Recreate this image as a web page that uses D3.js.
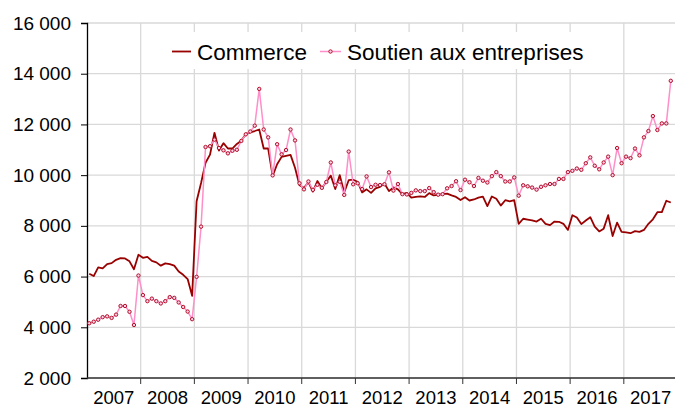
<!DOCTYPE html>
<html>
<head>
<meta charset="utf-8">
<script src="https://cdn.jsdelivr.net/npm/d3@7"></script>
<style>
  body { margin: 0; background: #fff; }
  svg { font-family: "Liberation Sans", Arial, sans-serif; }
</style>
</head>
<body>
<div id="chart"></div>
<script>
// monthly series, Jan 2007 .. Nov 2017
var commerce = [
  6110, 6020, 6360, 6320, 6490, 6530, 6660, 6730, 6715, 6600, 6290, 6860,
  6740, 6780, 6620, 6560, 6430, 6520, 6490, 6430, 6200, 6070, 5900, 5240,
  8970, 9690, 10490, 10810, 11670, 10970, 11260, 11050, 11050, 11230, 11360, 11620,
  11690, 11740, 11800, 11050, 11050, 9970, 10430, 10720, 10760, 10800, 10290, 9600,
  9500, 9720, 9350, 9770, 9480, 9740, 9980, 9450, 10000, 9320, 9800, 9820,
  9740, 9320, 9440, 9300, 9480, 9540, 9670, 9370, 9520, 9440, 9250, 9300,
  9110, 9140, 9160, 9140, 9290, 9200, 9220, 9250, 9270, 9200, 9140, 9020,
  9130, 9000, 9040, 9110, 9150, 8780, 9160, 9070, 8800, 9010, 8970, 9010,
  8080, 8280, 8250, 8220, 8170, 8280, 8080, 8030, 8170, 8160, 8080, 7840,
  8420, 8330, 8070, 8210, 8340, 7970, 7780, 7890, 8420, 7600, 8130, 7760,
  7740, 7710, 7790, 7760, 7840, 8080, 8260, 8540, 8540, 8990, 8920
];

var soutien = [
  4160, 4220, 4300, 4400, 4430, 4370, 4500, 4840, 4840, 4610, 4090, 6040,
  5270, 5030, 5130, 5030, 4940, 5030, 5190, 5160, 4980, 4800, 4620, 4320,
  5990, 7970, 11110, 11140, 11400, 11070, 10980, 10860, 10960, 11000, 11350, 11610,
  11720, 11950, 13400, 11800, 11490, 9990, 11220, 10820, 10990, 11800, 11370, 9680,
  9440, 9750, 9420, 9620, 9500, 9730, 10500, 9600, 9740, 9220, 10930, 9640,
  9680, 9450, 9950, 9530, 9620, 9610, 9640, 10110, 9390, 9650, 9250, 9240,
  9300, 9400, 9370, 9370, 9490, 9330, 9230, 9250, 9480, 9570, 9760, 9410,
  9820, 9720, 9570, 9890, 9780, 9710, 9960, 10120, 9960, 9750, 9750, 9910,
  9190, 9600, 9560, 9510, 9430, 9540, 9600, 9650, 9650, 9850, 9850, 10120,
  10170, 10260, 10210, 10470, 10700, 10370, 10230, 10500, 10730, 10000, 11070, 10470,
  10730, 10670, 11050, 10780, 11490, 11740, 12330, 11780, 12040, 12040, 13720
];

var years = ['2007', '2008', '2009', '2010', '2011', '2012', '2013', '2014', '2015', '2016', '2017'];
var yTicks = [2000, 4000, 6000, 8000, 10000, 12000, 14000, 16000];

var width = 675;
var height = 408;
var margin = { left: 87, right: -2.5, top: 23, bottom: 30 };

var svg = d3.select('#chart')
    .append('svg')
        .attr('width', width)
        .attr('height', height);

var x = d3.scaleLinear()
    .domain([0, years.length * 12])
    .range([margin.left, width - margin.right]);

var y = d3.scaleLinear()
    .domain([2000, 16000])
    .range([height - margin.bottom, margin.top]);

var fmt = function(d) { return d3.format(',')(d).replace(/,/g, ' '); };

// horizontal grid
svg.append('g')
    .selectAll('line')
    .data(yTicks)
    .enter()
    .append('line')
        .attr('x1', margin.left)
        .attr('x2', width)
        .attr('y1', d => y(d))
        .attr('y2', d => y(d))
        .attr('stroke', '#d9d9d9')
        .attr('stroke-width', 1.3);

// vertical grid at year boundaries
svg.append('g')
    .selectAll('line')
    .data(d3.range(1, years.length))
    .enter()
    .append('line')
        .attr('x1', d => x(d * 12))
        .attr('x2', d => x(d * 12))
        .attr('y1', y(16000))
        .attr('y2', y(2000))
        .attr('stroke', '#d9d9d9')
        .attr('stroke-width', 1.3);

// y axis
var yAxis = svg.append('g')
    .attr('transform', 'translate(' + margin.left + ',0)')
    .call(d3.axisLeft(y).tickValues(yTicks).tickSize(6).tickPadding(10).tickFormat(fmt));
yAxis.select('.domain').attr('stroke', '#000').attr('stroke-width', 1.3);
yAxis.selectAll('.tick line').attr('stroke', '#000');
yAxis.selectAll('text')
    .attr('font-size', 19)
    .attr('fill', '#000')
    .attr('font-family', '"Liberation Sans", Arial, sans-serif');

// x axis
var xAxis = svg.append('g')
    .attr('transform', 'translate(0,' + y(2000) + ')');
xAxis.append('line')
    .attr('x1', margin.left)
    .attr('x2', width)
    .attr('stroke', '#333')
    .attr('stroke-width', 1.3);
xAxis.selectAll('.xtick')
    .data(d3.range(1, years.length))
    .enter()
    .append('line')
        .attr('x1', d => x(d * 12))
        .attr('x2', d => x(d * 12))
        .attr('y1', 0)
        .attr('y2', 6)
        .attr('stroke', '#333');
xAxis.selectAll('.xlabel')
    .data(years)
    .enter()
    .append('text')
        .attr('x', (d, i) => x(i * 12 + 6))
        .attr('y', 26)
        .attr('text-anchor', 'middle')
        .attr('font-size', 18.5)
        .attr('fill', '#000')
        .text(d => d);

// series
var line = d3.line()
    .x((d, i) => x(i + 0.5))
    .y(d => y(d));

svg.append('path')
    .datum(commerce)
    .attr('fill', 'none')
    .attr('stroke', '#990000')
    .attr('stroke-width', 1.8)
    .attr('stroke-linejoin', 'round')
    .attr('d', line);

svg.append('path')
    .datum(soutien)
    .attr('fill', 'none')
    .attr('stroke', '#ff8fc8')
    .attr('stroke-width', 1.5)
    .attr('stroke-linejoin', 'round')
    .attr('d', line);

svg.append('g')
    .selectAll('circle')
    .data(soutien)
    .enter()
    .append('circle')
        .attr('cx', (d, i) => x(i + 0.5))
        .attr('cy', d => y(d))
        .attr('r', 1.7)
        .attr('fill', '#ffd0e6')
        .attr('stroke', '#b0102a')
        .attr('stroke-width', 1);

// legend
var legend = svg.append('g');
legend.append('rect')
    .attr('x', 163)
    .attr('y', 32)
    .attr('width', 432)
    .attr('height', 37)
    .attr('fill', '#fff');

legend.append('line')
    .attr('x1', 172).attr('x2', 191)
    .attr('y1', 51.5).attr('y2', 51.5)
    .attr('stroke', '#990000')
    .attr('stroke-width', 1.8);
legend.append('text')
    .attr('x', 197)
    .attr('y', 59.5)
    .attr('font-size', 22.5)
    .attr('fill', '#000')
    .text('Commerce');

legend.append('line')
    .attr('x1', 320).attr('x2', 341)
    .attr('y1', 51.5).attr('y2', 51.5)
    .attr('stroke', '#ff8fc8')
    .attr('stroke-width', 1.5);
legend.append('circle')
    .attr('cx', 330.5)
    .attr('cy', 51.5)
    .attr('r', 1.7)
    .attr('fill', '#ffd0e6')
    .attr('stroke', '#b0102a')
    .attr('stroke-width', 1);
legend.append('text')
    .attr('x', 347)
    .attr('y', 59.5)
    .attr('font-size', 22.5)
    .attr('fill', '#000')
    .text('Soutien aux entreprises');
</script>
</body>
</html>
